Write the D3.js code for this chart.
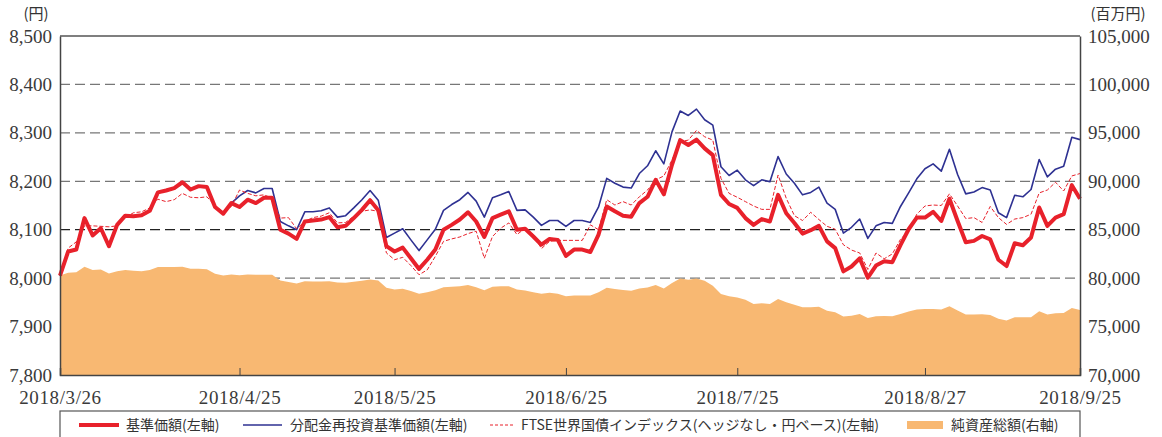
<!DOCTYPE html>
<meta charset="utf-8">
<title>基準価額の推移</title>
<style>
  html, body { margin: 0; padding: 0; background: #fff; }
  .num { font-family: "Liberation Serif", "Times New Roman", serif; font-size: 19px; fill: #3a3a3a; }
  .jp { font-family: "Noto Sans CJK JP", sans-serif; fill: #333; }
  .grid line { stroke: #777; stroke-width: 1.2; stroke-dasharray: 10,5; }
</style>
<body>
<script src="https://d3js.org/d3.v7.min.js"></script>
<script>

// trading-day index of each x tick, and its label
var tickIdx = [0, 22, 41, 62, 83, 106, 125];
var tickLabels = ["2018/3/26", "2018/4/25", "2018/5/25", "2018/6/25", "2018/7/25", "2018/8/27", "2018/9/25"];

// 基準価額 (left axis, yen)
var nav = [8005,8055,8059,8124,8088,8103,8066,8110,8129,8128,8130,8139,8177,8181,8186,8198,8183,8190,8188,8147,
  8133,8155,8147,8162,8155,8166,8166,8100,8092,8081,8117,8119,8121,8126,8105,8108,8124,8141,8161,8140,
  8066,8055,8063,8041,8019,8038,8059,8100,8110,8121,8136,8117,8085,8124,8131,8138,8100,8102,8086,8069,
  8081,8079,8046,8059,8059,8054,8090,8148,8138,8129,8127,8155,8168,8203,8173,8234,8285,8275,8286,8268,
  8254,8172,8153,8145,8124,8110,8122,8117,8172,8134,8114,8092,8099,8108,8076,8062,8014,8024,8041,8001,
  8026,8035,8033,8068,8101,8125,8125,8137,8118,8164,8118,8074,8077,8087,8080,8038,8025,8072,8068,8084,
  8146,8108,8125,8132,8192,8164];

// 分配金再投資基準価額 (left axis, yen)
var reinvest = [8005,8055,8059,8124,8088,8103,8066,8110,8129,8128,8130,8139,8177,8181,8186,8198,8183,8190,8188,8147,
  8133,8155,8170,8181,8176,8185,8185,8117,8108,8100,8137,8137,8139,8145,8126,8129,8145,8162,8181,8161,
  8084,8093,8102,8079,8057,8079,8101,8140,8152,8162,8177,8159,8126,8166,8172,8179,8140,8141,8126,8109,
  8119,8119,8107,8119,8119,8115,8147,8206,8196,8188,8186,8216,8232,8263,8236,8302,8345,8336,8349,8327,
  8316,8230,8212,8223,8203,8191,8203,8199,8251,8215,8196,8172,8177,8188,8155,8142,8093,8105,8122,8082,
  8108,8115,8113,8148,8176,8205,8226,8236,8221,8266,8214,8174,8178,8187,8182,8135,8125,8171,8168,8183,
  8245,8209,8225,8231,8291,8286];

// FTSE世界国債インデックス (left axis, rebased)
var ftse = [8005,8062,8075,8108,8108,8107,8106,8108,8125,8135,8137,8145,8163,8158,8162,8175,8167,8166,8168,8150,
  8137,8148,8182,8175,8170,8172,8165,8124,8125,8102,8117,8125,8128,8135,8114,8115,8128,8138,8141,8138,
  8052,8038,8043,8026,8007,8017,8045,8076,8081,8085,8092,8097,8041,8086,8103,8114,8090,8103,8090,8061,
  8076,8078,8078,8078,8078,8110,8100,8162,8151,8158,8151,8168,8182,8203,8211,8244,8282,8285,8305,8292,
  8285,8206,8175,8167,8158,8149,8142,8142,8213,8165,8129,8119,8136,8121,8107,8101,8069,8058,8052,8018,
  8052,8040,8050,8080,8098,8132,8149,8151,8150,8174,8149,8123,8125,8115,8148,8125,8111,8122,8125,8132,
  8176,8182,8198,8180,8211,8216];

// 純資産総額 (right axis, million yen)
var assets = [80280,80550,80620,81170,80830,80900,80480,80720,80830,80760,80720,80830,81140,81140,81140,81170,80970,80970,80930,80450,
  80280,80380,80310,80380,80340,80340,80340,79760,79590,79450,79690,79660,79660,79690,79560,79520,79620,79720,79860,79760,
  79000,78830,78900,78660,78380,78550,78760,79070,79100,79170,79280,79070,78760,79100,79170,79170,78830,78720,78550,78380,
  78480,78380,78140,78210,78210,78210,78550,79020,78870,78770,78700,78940,79040,79280,78940,79490,79970,79830,79970,79730,
  79210,78360,78120,78010,77770,77330,77400,77330,77840,77500,77260,76990,76990,77050,76640,76470,76030,76130,76300,75880,
  76060,76100,76070,76310,76550,76750,76820,76820,76750,77100,76650,76240,76240,76270,76200,75800,75620,75970,75970,75970,
  76580,76240,76370,76410,76920,76720];

var leftTicks = [7800, 7900, 8000, 8100, 8200, 8300, 8400, 8500];
var rightTicks = [70000, 75000, 80000, 85000, 90000, 95000, 100000, 105000];

var W = 1162, H = 437;
var margin = {top: 36, right: 82, bottom: 62, left: 60};
var width = W - margin.left - margin.right,
    height = H - margin.top - margin.bottom;

var x = d3.scaleLinear().domain([0, nav.length - 1]).range([0, width]);
var yL = d3.scaleLinear().domain([7800, 8500]).range([height, 0]);
var yR = d3.scaleLinear().domain([70000, 105000]).range([height, 0]);

var svg = d3.select("body").append("svg")
    .attr("width", W)
    .attr("height", H);

var g = svg.append("g")
    .attr("transform", "translate(" + margin.left + "," + margin.top + ")");

// dashed grid lines (under the area)
var grid = g.append("g").attr("class", "grid");
grid.selectAll("line")
  .data(leftTicks.slice(1, -1))
  .enter().append("line")
    .attr("x1", 0).attr("x2", width)
    .attr("y1", function(d) { return yL(d); })
    .attr("y2", function(d) { return yL(d); })
    .style("stroke", function(d) { return d === 8100 ? "#222" : null; });

// net assets area
var area = d3.area()
    .x(function(d, i) { return x(i); })
    .y0(height)
    .y1(function(d) { return yR(d); });

g.append("path")
    .datum(assets)
    .attr("fill", "#f8b872")
    .attr("d", area);

// lines
var lineL = d3.line()
    .x(function(d, i) { return x(i); })
    .y(function(d) { return yL(d); });

g.append("path").datum(reinvest)
    .attr("fill", "none").attr("stroke", "#2e3192").attr("stroke-width", 1.6)
    .attr("stroke-linejoin", "round")
    .attr("d", lineL);

g.append("path").datum(ftse)
    .attr("fill", "none").attr("stroke", "#e8212b").attr("stroke-width", 1)
    .attr("stroke-dasharray", "4,2")
    .attr("d", lineL);

g.append("path").datum(nav)
    .attr("fill", "none").attr("stroke", "#e8212b").attr("stroke-width", 4)
    .attr("stroke-linejoin", "round")
    .attr("d", lineL);

// frame
g.append("line").attr("x1", 0).attr("x2", width).attr("y1", 0).attr("y2", 0)
    .attr("stroke", "#555").attr("stroke-width", 1.5);

// left axis
var axL = g.append("g")
    .call(d3.axisLeft(yL).tickValues(leftTicks).tickSize(0).tickPadding(8)
      .tickFormat(d3.format(",")));
axL.select(".domain").attr("stroke", "#444").attr("stroke-width", 1.5);
axL.selectAll("text").attr("class", "num").attr("font-family", null).attr("font-size", null);

// right axis
var axR = g.append("g")
    .attr("transform", "translate(" + width + ",0)")
    .call(d3.axisRight(yR).tickValues(rightTicks).tickSize(0).tickPadding(8)
      .tickFormat(d3.format(",")));
axR.select(".domain").attr("stroke", "#444").attr("stroke-width", 1.5);
axR.selectAll("text").attr("class", "num").attr("font-family", null).attr("font-size", null);

// bottom axis, ticks point inward
var axB = g.append("g")
    .attr("transform", "translate(0," + height + ")")
    .call(d3.axisBottom(x).tickValues(tickIdx).tickSize(-7).tickPadding(16)
      .tickFormat(function(d, i) { return tickLabels[i]; }));
axB.select(".domain").attr("stroke", "#444").attr("stroke-width", 1.5);
axB.selectAll(".tick line").attr("stroke", "#444");
axB.selectAll("text").attr("class", "num").attr("font-family", null).attr("font-size", null)
    .style("letter-spacing", "0.6px");

// unit labels
svg.append("text").attr("class", "jp").attr("x", 36).attr("y", 19)
    .attr("text-anchor", "middle").attr("font-size", 15).text("(円)");
svg.append("text").attr("class", "jp").attr("x", 1118).attr("y", 19)
    .attr("text-anchor", "middle").attr("font-size", 15).text("(百万円)");

// legend
var legend = svg.append("g");
legend.append("rect")
    .attr("x", 60).attr("y", 411).attr("width", 1020).attr("height", 32)
    .attr("fill", "none").attr("stroke", "#555").attr("stroke-width", 1.2);

var items = [
  {name: "基準価額(左軸)", type: "nav", x: 79},
  {name: "分配金再投資基準価額(左軸)", type: "reinvest", x: 243},
  {name: "FTSE世界国債インデックス(ヘッジなし・円ベース)(左軸)", type: "ftse", x: 490},
  {name: "純資産総額(右軸)", type: "assets", x: 907}
];
var ly = 425;
items.forEach(function(it) {
  if (it.type === "nav") {
    legend.append("line").attr("x1", it.x).attr("x2", it.x + 40).attr("y1", ly).attr("y2", ly)
      .attr("stroke", "#e8212b").attr("stroke-width", 4);
  } else if (it.type === "reinvest") {
    legend.append("line").attr("x1", it.x).attr("x2", it.x + 39).attr("y1", ly).attr("y2", ly)
      .attr("stroke", "#2e3192").attr("stroke-width", 1.6);
  } else if (it.type === "ftse") {
    legend.append("line").attr("x1", it.x).attr("x2", it.x + 25).attr("y1", ly).attr("y2", ly)
      .attr("stroke", "#e8212b").attr("stroke-width", 1).attr("stroke-dasharray", "3,2");
  } else {
    legend.append("rect").attr("x", it.x).attr("y", ly - 4).attr("width", 36).attr("height", 8)
      .attr("fill", "#f8b872");
  }
  var tx = it.type === "ftse" ? it.x + 31 : it.x + (it.type === "assets" ? 44 : 47);
  legend.append("text").attr("class", "jp").attr("x", tx).attr("y", ly)
    .attr("dy", "0.35em").attr("font-size", 14).text(it.name);
});

</script>
</body>
